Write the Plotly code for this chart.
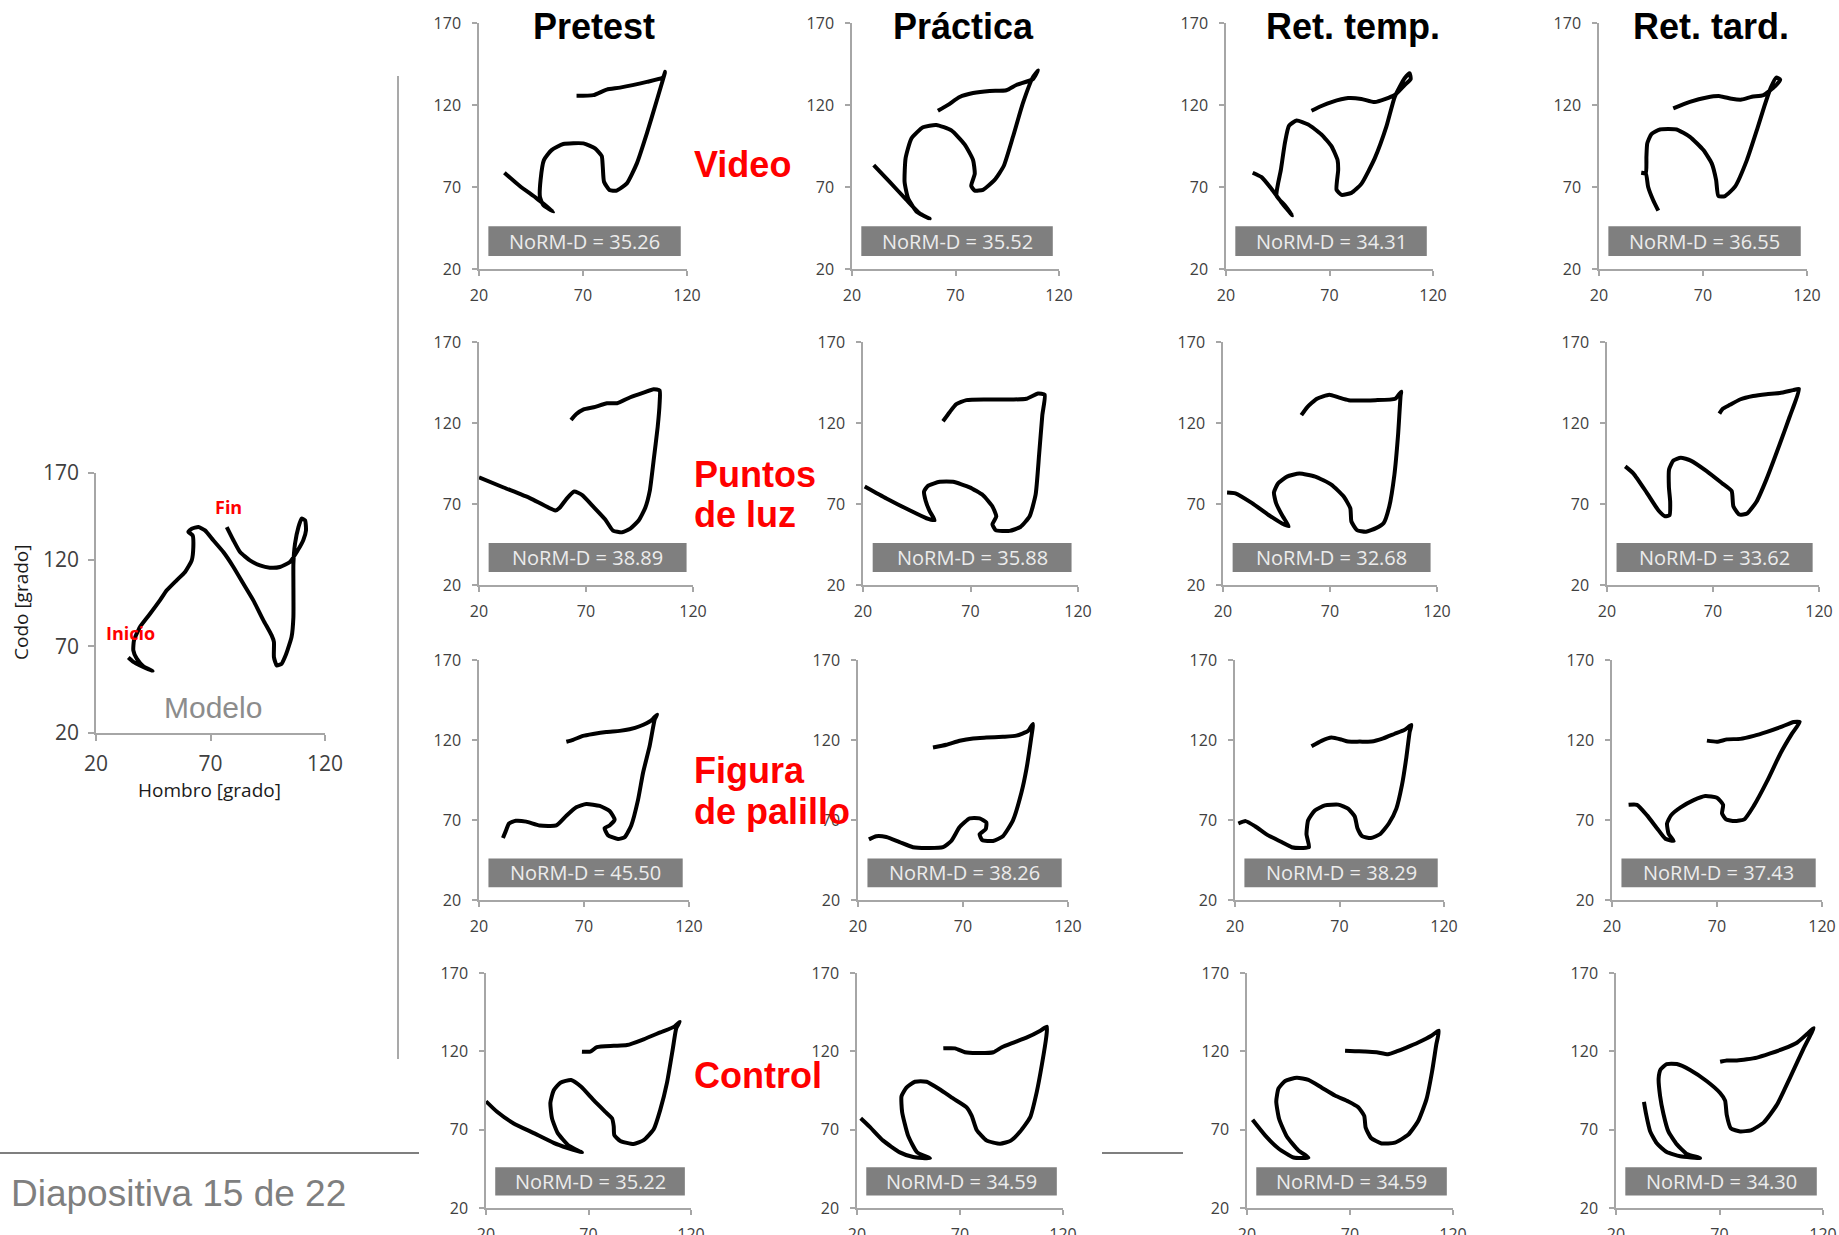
import plotly.graph_objects as go

W, H = 1839, 1235

# ---------------------------------------------------------------------------
# Labels
# ---------------------------------------------------------------------------
fases = ["Pretest", "Práctica", "Ret. temp.", "Ret. tard."]
grupos = [["Video"], ["Puntos", "de luz"], ["Figura", "de palillo"], ["Control"]]
ticks_hombro = [20, 70, 120]
ticks_codo = [20, 70, 120, 170]

# NoRM-D per group (row) and phase (column)
norm_d_video = [35.26, 35.52, 34.31, 36.55]
norm_d_puntos = [38.89, 35.88, 32.68, 33.62]
norm_d_figura = [45.50, 38.26, 38.29, 37.43]
norm_d_control = [35.22, 34.59, 34.59, 34.30]

# ---------------------------------------------------------------------------
# Angle-angle trajectories: hombro (shoulder, x) vs codo (elbow, y), degrees
# ---------------------------------------------------------------------------
modelo_hombro = [34.1, 36.3, 39.2, 44.7, 40.7, 37.8, 36.3, 36.6, 39.2, 43.6, 47.9, 50.9, 55.2, 58.9, 61.8, 62.5, 62.2, 60.3, 61.8, 64.7, 67.6, 71.2, 75.6, 80.0, 84.3, 88.7, 93.1, 96.7, 97.7, 97.7, 98.9, 101.1, 102.5, 103.6, 105.4, 106.2, 106.2, 106.2, 106.9, 108.4, 109.8, 111.3, 111.7, 110.5, 108.1, 104.7, 100.3, 95.9, 91.6, 87.2, 82.9, 80.0, 77.1]
modelo_codo = [63.5, 61.0, 59.0, 55.8, 58.5, 62.9, 67.7, 73.5, 81.2, 88.8, 96.5, 102.3, 108.1, 112.9, 119.6, 127.3, 134.0, 136.0, 137.9, 138.8, 136.9, 131.2, 124.4, 115.8, 106.2, 96.5, 85.0, 76.3, 72.5, 63.8, 59.0, 60.0, 63.8, 67.7, 75.4, 86.9, 106.2, 117.7, 129.2, 138.8, 143.7, 142.7, 136.9, 131.2, 125.4, 118.7, 115.8, 115.4, 116.7, 119.6, 124.4, 131.2, 138.8]

video_pretest_hombro = [32.2, 39.6, 47.7, 55.7, 50.9, 49.3, 49.6, 51.2, 54.9, 60.5, 70.2, 75.8, 79.0, 79.5, 80.1, 82.7, 86.2, 91.1, 95.9, 100.7, 105.5, 109.5, 108.4, 100.7, 87.8, 81.4, 75.0, 66.9]
video_pretest_codo = [78.7, 70.6, 63.1, 55.0, 59.0, 64.0, 74.3, 86.4, 92.5, 96.2, 96.6, 93.5, 88.9, 82.4, 73.2, 68.2, 67.8, 72.2, 84.4, 102.7, 122.9, 140.2, 136.7, 134.1, 130.6, 129.4, 126.0, 125.6]
video_practica_hombro = [30.5, 38.2, 46.2, 52.7, 57.5, 51.1, 47.0, 45.4, 45.9, 48.7, 54.3, 60.7, 68.0, 74.4, 78.5, 79.3, 77.6, 79.3, 83.3, 88.9, 93.3, 97.8, 102.6, 107.4, 109.9, 107.4, 99.4, 94.6, 86.5, 78.5, 72.0, 66.4, 61.5]
video_practica_codo = [83.3, 73.1, 62.3, 53.9, 50.7, 55.1, 63.5, 73.1, 87.6, 99.6, 106.4, 107.8, 104.5, 96.0, 86.4, 78.0, 70.7, 67.8, 68.3, 74.3, 82.8, 100.8, 121.3, 137.0, 141.1, 135.8, 132.2, 129.0, 128.6, 127.3, 124.9, 120.1, 116.5]
video_temp_hombro = [32.9, 37.2, 42.0, 46.8, 52.0, 48.5, 44.4, 46.5, 48.5, 50.4, 54.1, 59.7, 66.1, 71.0, 73.9, 74.2, 73.4, 75.8, 80.6, 85.4, 91.9, 97.5, 101.5, 106.3, 108.7, 109.2, 106.3, 101.5, 91.9, 85.4, 79.0, 71.0, 66.1, 61.3]
video_temp_codo = [78.7, 76.0, 68.8, 60.6, 52.7, 58.7, 64.7, 80.4, 97.2, 107.3, 110.5, 108.1, 102.0, 94.8, 86.4, 80.4, 68.3, 65.2, 66.4, 71.9, 87.6, 106.9, 124.9, 136.3, 139.4, 135.8, 132.2, 126.1, 121.8, 123.7, 124.2, 121.8, 119.4, 116.5]
video_tard_hombro = [48.5, 46.0, 43.6, 42.5, 40.4, 42.5, 42.8, 43.2, 45.2, 49.3, 57.3, 63.7, 70.2, 74.2, 76.3, 77.4, 80.6, 85.4, 91.1, 95.9, 99.4, 102.6, 105.2, 107.1, 104.7, 99.1, 93.5, 88.6, 83.8, 78.2, 71.8, 63.7, 55.7]
video_tard_codo = [55.6, 62.1, 70.2, 78.3, 78.7, 78.3, 88.5, 96.6, 102.3, 105.1, 105.1, 100.6, 92.5, 84.4, 74.3, 64.5, 64.5, 70.2, 86.4, 104.7, 118.9, 130.6, 136.7, 135.5, 131.5, 126.0, 125.0, 123.3, 123.8, 125.4, 124.6, 121.9, 117.9]

puntos_pretest_hombro = [20.0, 31.5, 44.0, 55.7, 57.7, 61.1, 64.5, 68.1, 73.6, 79.0, 82.6, 86.8, 90.7, 94.6, 97.7, 99.8, 101.6, 103.5, 104.4, 104.4, 101.6, 96.9, 90.7, 84.5, 79.8, 73.6, 68.9, 65.5, 63.0]
puntos_pretest_codo = [86.4, 80.2, 73.5, 66.0, 67.7, 73.5, 77.7, 75.6, 68.1, 60.4, 53.6, 52.5, 54.8, 59.8, 67.7, 78.1, 96.8, 117.6, 132.2, 140.1, 140.9, 138.8, 135.9, 132.2, 132.2, 129.7, 128.4, 125.5, 121.8]
puntos_practica_hombro = [20.8, 30.9, 41.7, 49.5, 53.3, 51.0, 49.1, 48.4, 50.2, 55.7, 61.9, 69.6, 75.8, 80.2, 82.0, 80.2, 81.7, 88.2, 93.2, 97.5, 100.3, 101.9, 103.4, 104.5, 101.4, 96.0, 89.8, 77.4, 68.1, 63.4, 60.3, 57.2]
puntos_practica_codo = [80.8, 73.4, 66.1, 61.2, 60.0, 65.6, 72.2, 77.8, 81.2, 83.7, 83.7, 80.3, 75.4, 68.5, 62.4, 57.5, 53.9, 53.4, 55.8, 62.4, 75.9, 100.3, 124.8, 137.5, 138.2, 135.0, 134.5, 134.5, 134.1, 131.6, 126.7, 121.1]
puntos_temp_hombro = [21.9, 25.8, 33.6, 41.3, 47.6, 50.7, 47.9, 44.8, 43.8, 45.7, 49.9, 55.7, 63.1, 70.6, 76.4, 79.5, 80.0, 82.6, 86.8, 91.5, 95.1, 97.7, 100.1, 101.8, 103.0, 103.3, 100.5, 91.2, 78.7, 74.0, 69.7, 63.9, 59.3, 56.6]
puntos_temp_codo = [77.1, 76.6, 70.5, 63.2, 58.0, 56.3, 62.4, 70.5, 77.1, 82.7, 86.9, 88.8, 86.9, 82.0, 74.6, 67.3, 59.2, 53.9, 52.9, 55.1, 58.3, 68.5, 88.1, 112.5, 137.0, 139.4, 135.0, 134.1, 134.1, 135.8, 137.5, 135.0, 129.7, 124.8]
puntos_tard_hombro = [28.6, 32.5, 38.8, 44.3, 47.4, 49.5, 49.8, 49.2, 49.3, 51.3, 54.8, 59.5, 67.0, 74.1, 78.8, 79.6, 82.4, 86.1, 90.5, 95.2, 101.5, 106.2, 110.6, 107.8, 101.5, 95.2, 88.9, 82.7, 78.0, 74.5, 73.0]
puntos_tard_codo = [93.2, 88.8, 76.9, 66.0, 62.4, 63.1, 71.4, 80.5, 91.4, 96.8, 98.6, 96.8, 90.3, 83.0, 78.0, 68.6, 63.5, 64.2, 71.4, 85.2, 107.0, 124.0, 141.0, 140.3, 138.5, 137.8, 136.7, 134.5, 131.2, 128.7, 125.8]

figura_pretest_hombro = [31.4, 32.7, 34.3, 37.5, 42.5, 48.9, 56.8, 61.6, 66.3, 71.1, 77.5, 82.2, 84.6, 82.2, 79.8, 81.4, 86.2, 89.4, 92.5, 95.7, 98.1, 101.3, 103.7, 104.8, 102.1, 96.5, 91.7, 87.0, 80.6, 74.3, 69.5, 64.8, 61.6]
figura_pretest_codo = [58.8, 62.9, 67.8, 69.5, 69.0, 66.6, 66.6, 72.7, 78.0, 80.0, 78.8, 75.6, 70.2, 66.6, 64.9, 60.5, 58.1, 59.3, 66.6, 82.4, 99.4, 116.5, 133.0, 135.9, 132.3, 128.6, 126.7, 125.7, 125.0, 123.8, 122.6, 120.1, 118.9]
figura_practica_hombro = [25.2, 28.7, 33.5, 39.8, 46.2, 52.5, 60.5, 64.4, 68.4, 73.2, 77.9, 81.1, 80.8, 77.9, 79.2, 84.3, 89.0, 93.8, 97.8, 100.2, 102.5, 103.3, 101.0, 95.4, 89.0, 81.1, 74.8, 68.4, 62.1, 55.7]
figura_practica_codo = [57.9, 59.9, 59.4, 56.2, 53.0, 52.5, 53.0, 56.9, 65.6, 71.0, 71.0, 68.5, 64.3, 61.1, 57.4, 56.9, 59.9, 69.8, 87.0, 101.8, 121.5, 130.1, 125.7, 122.7, 122.0, 121.5, 121.0, 119.5, 117.0, 115.3]
figura_temp_hombro = [21.6, 25.1, 29.6, 35.9, 42.3, 47.1, 52.6, 55.4, 54.2, 55.0, 58.2, 63.0, 69.4, 74.1, 77.3, 78.6, 80.8, 85.0, 89.3, 93.6, 97.2, 99.9, 102.0, 103.6, 104.4, 101.2, 96.4, 90.9, 85.3, 79.7, 74.1, 71.0, 66.2, 61.4, 56.6]
figura_temp_codo = [67.8, 69.3, 66.1, 60.4, 56.2, 53.0, 52.5, 53.0, 61.1, 69.8, 75.9, 79.1, 79.6, 77.1, 72.2, 64.8, 59.9, 58.7, 61.1, 67.8, 77.1, 91.9, 109.2, 125.2, 129.4, 126.4, 123.9, 121.0, 119.0, 119.0, 119.0, 120.2, 121.5, 119.5, 116.1]
figura_tard_hombro = [27.9, 31.9, 36.7, 41.4, 45.4, 49.4, 47.0, 46.2, 48.1, 52.5, 58.9, 64.4, 70.0, 72.9, 72.4, 74.3, 78.3, 83.0, 87.5, 93.8, 100.2, 105.7, 109.4, 106.5, 100.2, 93.8, 87.5, 81.1, 74.8, 70.0, 65.2]
figura_tard_codo = [79.5, 79.5, 72.9, 64.9, 58.3, 56.9, 61.2, 67.8, 72.9, 77.7, 82.4, 85.0, 83.9, 79.5, 74.0, 70.4, 69.3, 70.4, 78.8, 94.1, 111.6, 124.0, 131.3, 131.3, 128.0, 125.1, 122.6, 120.7, 120.4, 118.9, 119.6]

control_pretest_hombro = [20.0, 25.4, 33.5, 43.3, 53.0, 59.5, 66.8, 60.3, 55.0, 52.2, 51.4, 53.0, 56.3, 61.5, 66.3, 72.5, 78.2, 81.5, 82.3, 82.6, 85.5, 92.0, 96.9, 101.8, 105.0, 108.3, 111.2, 112.8, 114.5, 111.9, 105.0, 96.9, 88.8, 82.3, 74.1, 70.9, 66.8]
control_pretest_codo = [88.1, 81.4, 74.0, 67.8, 61.6, 58.4, 55.4, 59.9, 67.8, 77.2, 87.1, 95.0, 100.0, 101.7, 97.5, 88.8, 81.4, 77.2, 72.2, 66.5, 62.8, 60.8, 63.3, 70.2, 82.6, 100.0, 122.2, 134.6, 138.8, 135.8, 132.1, 127.7, 124.0, 123.5, 122.7, 119.8, 119.8]
control_practica_hombro = [21.8, 26.2, 32.7, 40.8, 47.3, 55.4, 49.2, 44.8, 41.9, 41.6, 44.0, 48.1, 53.8, 60.3, 66.8, 73.2, 75.7, 78.1, 83.0, 89.5, 94.7, 99.2, 104.1, 107.3, 109.8, 111.9, 112.2, 109.0, 102.5, 96.0, 90.3, 86.2, 78.1, 72.4, 67.6, 61.9]
control_practica_codo = [77.3, 71.8, 63.0, 55.5, 52.5, 51.7, 55.5, 66.2, 81.3, 91.3, 96.8, 100.6, 100.6, 95.6, 89.8, 84.3, 78.8, 69.8, 63.0, 61.0, 63.0, 68.8, 78.0, 94.3, 111.9, 129.4, 135.7, 133.2, 128.9, 125.6, 122.6, 119.4, 118.9, 119.4, 121.9, 121.9]
control_temp_hombro = [22.7, 28.9, 35.3, 42.6, 49.8, 45.0, 39.4, 35.6, 34.2, 35.3, 38.5, 44.2, 49.8, 56.3, 62.7, 69.2, 74.0, 76.9, 77.6, 80.2, 85.3, 91.8, 98.2, 103.1, 107.1, 109.8, 111.9, 113.1, 109.5, 103.1, 97.4, 92.6, 88.5, 82.9, 77.3, 72.4, 67.6]
control_temp_codo = [76.3, 66.2, 58.0, 52.2, 52.2, 56.7, 65.5, 76.8, 88.0, 96.3, 101.1, 103.1, 101.8, 96.8, 91.8, 88.0, 84.3, 78.8, 71.3, 64.7, 61.2, 61.7, 66.7, 75.5, 89.3, 106.8, 124.4, 133.2, 129.9, 125.6, 122.4, 119.9, 118.1, 119.4, 119.9, 120.1, 120.4]
control_tard_hombro = [33.5, 34.5, 36.5, 39.7, 44.5, 51.0, 60.6, 54.2, 49.4, 45.3, 42.9, 41.3, 40.6, 41.6, 44.5, 49.4, 55.8, 63.9, 70.3, 72.7, 73.5, 75.5, 80.0, 85.2, 91.3, 97.7, 104.2, 110.6, 115.5, 112.3, 107.4, 101.0, 94.5, 88.1, 83.2, 78.4, 73.5, 70.3]
control_tard_codo = [87.7, 80.2, 68.9, 61.3, 55.7, 53.0, 51.9, 54.5, 60.6, 68.9, 80.2, 91.5, 102.8, 108.5, 111.9, 111.9, 108.1, 100.9, 93.4, 88.5, 79.4, 70.8, 68.9, 69.6, 74.5, 85.8, 103.6, 121.7, 134.9, 131.1, 125.5, 121.7, 118.7, 116.0, 114.9, 114.2, 114.2, 113.4]

# ---------------------------------------------------------------------------
# Grid assembly
# ---------------------------------------------------------------------------
curvas = [
    [(video_pretest_hombro, video_pretest_codo), (video_practica_hombro, video_practica_codo),
     (video_temp_hombro, video_temp_codo), (video_tard_hombro, video_tard_codo)],
    [(puntos_pretest_hombro, puntos_pretest_codo), (puntos_practica_hombro, puntos_practica_codo),
     (puntos_temp_hombro, puntos_temp_codo), (puntos_tard_hombro, puntos_tard_codo)],
    [(figura_pretest_hombro, figura_pretest_codo), (figura_practica_hombro, figura_practica_codo),
     (figura_temp_hombro, figura_temp_codo), (figura_tard_hombro, figura_tard_codo)],
    [(control_pretest_hombro, control_pretest_codo), (control_practica_hombro, control_practica_codo),
     (control_temp_hombro, control_temp_codo), (control_tard_hombro, control_tard_codo)],
]
norm_d = [norm_d_video, norm_d_puntos, norm_d_figura, norm_d_control]

# Panel frames in pixels: (left, right) per cell and (top, bottom) per row
marcos_x = [
    [(479, 687), (852, 1059), (1226, 1433), (1599, 1807)],
    [(479, 693), (863, 1078), (1223, 1437), (1607, 1819)],
    [(479, 689), (858, 1068), (1235, 1444), (1612, 1822)],
    [(486, 691), (857, 1063), (1247, 1453), (1616, 1823)],
]
marcos_y = [(23, 269), (342, 585), (660, 900), (973, 1208)]
modelo_marco = ((96, 325), (473, 733))

AXIS_GRAY = "#a6a6a6"
TICK_TEXT = "#404040"
SANS = "Open Sans, DejaVu Sans, sans-serif"
ARIAL = "Liberation Sans, Arial, sans-serif"


def px(x):
    return x / W


def py(y):
    return 1 - y / H


fig = go.Figure()
layout = {}
shapes = []
annotations = []


def add_panel(n, xs, ys, hombro, codo, tick_size, ticklen, stand_x, stand_y):
    suf = "" if n == 1 else str(n)
    common = dict(
        showline=True, linecolor=AXIS_GRAY, linewidth=1.5,
        ticks="outside", ticklen=ticklen, tickwidth=1.5, tickcolor=AXIS_GRAY,
        showgrid=False, zeroline=False, fixedrange=True, automargin=False,
        tickfont=dict(family=SANS, size=tick_size, color=TICK_TEXT),
    )
    layout["xaxis" + suf] = dict(
        common, domain=[px(xs[0]), px(xs[1])], range=[20, 120],
        tickvals=ticks_hombro, anchor="y" + suf, ticklabelstandoff=stand_x,
    )
    layout["yaxis" + suf] = dict(
        common, domain=[py(ys[1]), py(ys[0])], range=[20, 170],
        tickvals=ticks_codo, anchor="x" + suf, ticklabelstandoff=stand_y,
    )
    fig.add_trace(go.Scatter(
        x=hombro, y=codo, mode="lines", xaxis="x" + suf, yaxis="y" + suf,
        line=dict(color="black", width=4, shape="spline", smoothing=0.5),
        hoverinfo="skip",
    ))


def texto(x, y, text, size, color, family=SANS, xanchor="center", angle=0):
    return dict(
        x=px(x), y=py(y), xref="paper", yref="paper", text=text,
        showarrow=False, xanchor=xanchor, yanchor="middle", textangle=angle,
        font=dict(family=family, size=size, color=color),
    )


n = 1
for r in range(4):
    for c in range(4):
        hombro, codo = curvas[r][c]
        add_panel(n, marcos_x[r][c], marcos_y[r], hombro, codo, 16, 5, 6, 8)
        suf = "" if n == 1 else str(n)
        shapes.append(dict(
            type="rect", xref="x" + suf, yref="y" + suf,
            x0=24.5, x1=117, y0=28, y1=46,
            fillcolor="#7f7f7f", line=dict(width=0), layer="below",
        ))
        annotations.append(dict(
            x=70.75, y=37, xref="x" + suf, yref="y" + suf,
            text=f"NoRM-D = {norm_d[r][c]:.2f}", showarrow=False,
            font=dict(family=SANS, size=20, color="#ececec"),
            xanchor="center", yanchor="middle",
        ))
        n += 1

# Reference (model) trajectory
add_panel(n, modelo_marco[0], modelo_marco[1], modelo_hombro, modelo_codo, 21, 6, 5, 5)

# Column titles
for fase, cx in zip(fases, [594, 963, 1353, 1711]):
    annotations.append(texto(cx, 26.5, f"<b>{fase}</b>", 36, "black", ARIAL))

# Group labels (one annotation per line)
filas_y = [[164], [474, 514], [770, 811], [1075]]
for lineas, ys in zip(grupos, filas_y):
    for txt, yy in zip(lineas, ys):
        annotations.append(texto(692, yy, f"<b>{txt}</b>", 36, "#ff0000", ARIAL, xanchor="left"))

# Model annotations
annotations += [
    texto(228, 507, "<b>Fin</b>", 18, "#ff0000"),
    texto(130, 633, "<b>Inicio</b>", 18, "#ff0000"),
    texto(213, 707, "Modelo", 30, "#8c8c8c", ARIAL),
    texto(209, 790, "Hombro [grado]", 19, "#1a1a1a"),
    texto(21, 602, "Codo [grado]", 19, "#1a1a1a", angle=-90),
    texto(9, 1193, "Diapositiva 15 de 22", 37, "#7f7f7f", ARIAL, xanchor="left"),
]

# Slide separators
shapes += [
    dict(type="line", xref="paper", yref="paper", x0=px(398), x1=px(398), y0=py(76), y1=py(1059),
         line=dict(color="#8c8c8c", width=1.5)),
    dict(type="line", xref="paper", yref="paper", x0=0, x1=px(419), y0=py(1153), y1=py(1153),
         line=dict(color="#7f7f7f", width=2)),
    dict(type="line", xref="paper", yref="paper", x0=px(1102), x1=px(1183), y0=py(1153), y1=py(1153),
         line=dict(color="#7f7f7f", width=2)),
]

fig.update_layout(
    width=W, height=H, margin=dict(l=0, r=0, t=0, b=0, autoexpand=False),
    paper_bgcolor="white", plot_bgcolor="white", showlegend=False,
    shapes=shapes, annotations=annotations, **layout,
)

fig.write_html("out.html")
